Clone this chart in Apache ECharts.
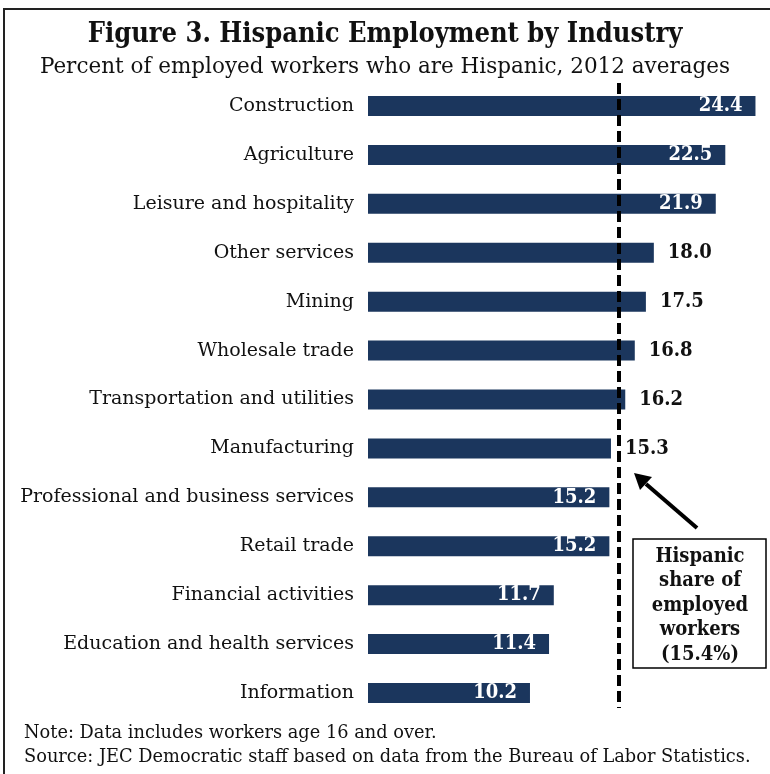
<!DOCTYPE html>
<html>
<head>
<meta charset="utf-8">
<script src="https://cdn.jsdelivr.net/npm/echarts@6/dist/echarts.min.js"></script>
<style>
  html, body { margin: 0; padding: 0; background: #fff; }
  #main { width: 770px; height: 774px; }
</style>
</head>
<body>
<div id="main"></div>
<script>
var industries = ['Construction', 'Agriculture', 'Leisure and hospitality', 'Other services',
  'Mining', 'Wholesale trade', 'Transportation and utilities', 'Manufacturing',
  'Professional and business services', 'Retail trade', 'Financial activities',
  'Education and health services', 'Information'];
var hispanicShare = [24.4, 22.5, 21.9, 18.0, 17.5, 16.8, 16.2, 15.3, 15.2, 15.2, 11.7, 11.4, 10.2];
// label sits outside the bar where it would collide with the dashed line
var labelOutside = [false, false, false, true, true, true, true, true, false, false, false, false, false];
var overallShare = 15.4;
var lineDrawnAt = 15.8; // where the dashed line is drawn in the figure

var serif = '"DejaVu Serif", serif';
var serifCond = '"DejaVu Serif Condensed", "DejaVu Serif", serif';
var navy = '#1b365d';

var chart = echarts.init(document.getElementById('main'), null, { renderer: 'canvas' });

var barData = hispanicShare.map(function (v, i) {
  var out = labelOutside[i];
  return {
    value: v,
    label: {
      position: out ? 'right' : 'insideRight',
      color: out ? '#111' : '#fff',
      distance: out ? 14 : 13
    }
  };
});

var option = {
  backgroundColor: '#fff',
  animation: false,
  title: [{
    text: 'Figure 3. Hispanic Employment by Industry',
    left: 'center', top: 16,
    textStyle: { fontFamily: serifCond, fontWeight: 'bold', fontSize: 27, color: '#111' }
  }, {
    text: 'Percent of employed workers who are Hispanic, 2012 averages',
    left: 'center', top: 51,
    textStyle: { fontFamily: serif, fontWeight: 'normal', fontSize: 21.5, color: '#111' }
  }],
  grid: { left: 368, top: 81.5, width: 397, height: 636 },
  xAxis: {
    type: 'value', min: 0, max: 25, show: false
  },
  yAxis: {
    type: 'category',
    inverse: true,
    data: industries,
    axisLine: { show: false },
    axisTick: { show: false },
    axisLabel: { fontFamily: serif, fontSize: 19, color: '#111', margin: 14 }
  },
  series: [{
    type: 'bar',
    data: barData,
    barWidth: 20,
    itemStyle: { color: navy },
    label: {
      show: true,
      fontFamily: serifCond, fontWeight: 'bold', fontSize: 20,
      formatter: function (p) { return p.value.toFixed(1); }
    },
    markLine: {
      silent: true,
      symbol: 'none',
      label: { show: false },
      lineStyle: { color: '#000', width: 4, type: [11, 5] },
      data: [[
        { coord: [lineDrawnAt, 0], y: 83 },
        { coord: [lineDrawnAt, 0], y: 708 }
      ]]
    }
  }],
  graphic: [
    // outer frame (cut by the image edge on right and bottom)
    { type: 'rect', shape: { x: 4, y: 9, width: 800, height: 800 },
      style: { fill: 'none', stroke: '#222', lineWidth: 2 }, z: 0 },
    // arrow
    { type: 'line', shape: { x1: 697, y1: 528, x2: 646, y2: 484 },
      style: { stroke: '#000', lineWidth: 4 } },
    { type: 'polygon', shape: { points: [[634, 473], [652, 477], [640, 490]] },
      style: { fill: '#000' } },
    // annotation box
    { type: 'rect', shape: { x: 633, y: 539, width: 133, height: 129 },
      style: { fill: '#fff', stroke: '#000', lineWidth: 1.5 } },
    { type: 'text', x: 700, y: 544,
      style: {
        text: 'Hispanic\nshare of\nemployed\nworkers\n(' + overallShare.toFixed(1) + '%)',
        textAlign: 'center', textVerticalAlign: 'top',
        font: 'bold 20px ' + serifCond, lineHeight: 24.6, fill: '#111'
      } },
    // notes
    { type: 'text', x: 24, y: 733,
      style: { text: 'Note: Data includes workers age 16 and over.', textVerticalAlign: 'middle',
        font: '17.8px ' + serif, fill: '#111' } },
    { type: 'text', x: 24, y: 757,
      style: { text: 'Source: JEC Democratic staff based on data from the Bureau of Labor Statistics.',
        textVerticalAlign: 'middle', font: '17.8px ' + serif, fill: '#111' } }
  ]
};

chart.setOption(option);
</script>
</body>
</html>
